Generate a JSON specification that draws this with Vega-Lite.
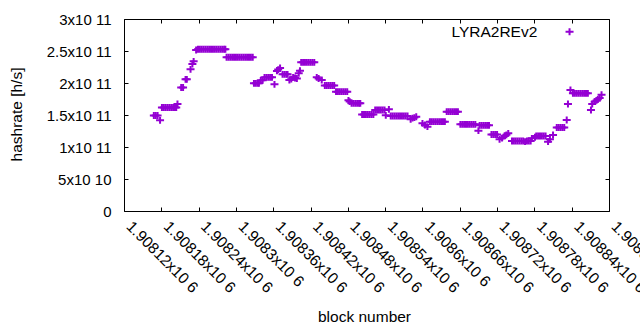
{
  "$schema": "https://vega.github.io/schema/vega-lite/v6.json",
  "width": 485,
  "height": 192,
  "autosize": {"type": "none"},
  "padding": {"left": 124, "top": 19, "right": 31, "bottom": 119},
  "background": "white",
  "config": {
    "font": "Liberation Sans",
    "view": {"stroke": "black", "strokeWidth": 1},
    "axis": {"domain": false, "grid": false, "tickColor": "black", "tickWidth": 1, "labelColor": "black", "titleColor": "black", "labelFont": "Liberation Sans", "titleFont": "Liberation Sans", "labelFontSize": 15, "titleFontSize": 15.5, "titleFontWeight": "normal"}
  },
  "data": {"values": [
    {"block":1908168,"hashrate":149.2e9},{"block":1908171,"hashrate":149.2e9},{"block":1908174,"hashrate":149.2e9},
    {"block":1908178,"hashrate":141.7e9},
    {"block":1908181,"hashrate":161.7e9},{"block":1908184,"hashrate":161.7e9},{"block":1908187,"hashrate":161.7e9},{"block":1908190,"hashrate":161.7e9},{"block":1908193,"hashrate":161.7e9},{"block":1908196,"hashrate":161.7e9},{"block":1908199,"hashrate":161.7e9},{"block":1908202,"hashrate":161.7e9},{"block":1908204,"hashrate":161.7e9},
    {"block":1908206,"hashrate":167.2e9},
    {"block":1908212,"hashrate":193.0e9},{"block":1908215,"hashrate":193.0e9},
    {"block":1908219,"hashrate":205.8e9},{"block":1908221,"hashrate":205.8e9},
    {"block":1908227,"hashrate":221.4e9},
    {"block":1908230,"hashrate":229.7e9},
    {"block":1908232,"hashrate":233.9e9},
    {"block":1908236,"hashrate":251.6e9},
    {"block":1908239,"hashrate":252.7e9},{"block":1908242,"hashrate":252.7e9},{"block":1908245,"hashrate":252.7e9},{"block":1908248,"hashrate":252.7e9},{"block":1908251,"hashrate":252.7e9},{"block":1908254,"hashrate":252.7e9},{"block":1908257,"hashrate":252.7e9},{"block":1908260,"hashrate":252.7e9},{"block":1908263,"hashrate":252.7e9},{"block":1908266,"hashrate":252.7e9},{"block":1908269,"hashrate":252.7e9},{"block":1908272,"hashrate":252.7e9},{"block":1908275,"hashrate":252.7e9},{"block":1908278,"hashrate":252.7e9},{"block":1908281,"hashrate":252.7e9},{"block":1908283,"hashrate":252.7e9},
    {"block":1908285,"hashrate":240.2e9},{"block":1908288,"hashrate":240.2e9},{"block":1908291,"hashrate":240.2e9},{"block":1908294,"hashrate":240.2e9},{"block":1908297,"hashrate":240.2e9},{"block":1908300,"hashrate":240.2e9},{"block":1908303,"hashrate":240.2e9},{"block":1908306,"hashrate":240.2e9},{"block":1908309,"hashrate":240.2e9},{"block":1908312,"hashrate":240.2e9},{"block":1908315,"hashrate":240.2e9},{"block":1908318,"hashrate":240.2e9},{"block":1908321,"hashrate":240.2e9},{"block":1908324,"hashrate":240.2e9},{"block":1908327,"hashrate":240.2e9},
    {"block":1908329,"hashrate":199.5e9},{"block":1908332,"hashrate":199.5e9},{"block":1908335,"hashrate":199.5e9},{"block":1908337,"hashrate":199.5e9},
    {"block":1908340,"hashrate":204.2e9},{"block":1908343,"hashrate":204.2e9},
    {"block":1908346,"hashrate":208.9e9},{"block":1908349,"hashrate":208.9e9},{"block":1908352,"hashrate":208.9e9},{"block":1908355,"hashrate":208.9e9},{"block":1908358,"hashrate":208.9e9},
    {"block":1908362,"hashrate":198.0e9},
    {"block":1908366,"hashrate":218.8e9},{"block":1908368,"hashrate":221.0e9},{"block":1908371,"hashrate":223.4e9},
    {"block":1908375,"hashrate":213.6e9},{"block":1908378,"hashrate":213.6e9},{"block":1908381,"hashrate":213.6e9},{"block":1908383,"hashrate":213.6e9},
    {"block":1908386,"hashrate":204.7e9},{"block":1908389,"hashrate":206.0e9},{"block":1908392,"hashrate":208.9e9},{"block":1908395,"hashrate":207.8e9},{"block":1908398,"hashrate":207.0e9},
    {"block":1908401,"hashrate":215.2e9},{"block":1908403,"hashrate":219.2e9},
    {"block":1908405,"hashrate":232.3e9},{"block":1908408,"hashrate":232.3e9},{"block":1908411,"hashrate":232.3e9},{"block":1908414,"hashrate":232.3e9},{"block":1908417,"hashrate":232.3e9},{"block":1908420,"hashrate":232.3e9},{"block":1908423,"hashrate":232.3e9},{"block":1908426,"hashrate":232.3e9},
    {"block":1908430,"hashrate":208.9e9},{"block":1908433,"hashrate":207.0e9},{"block":1908438,"hashrate":204.7e9},
    {"block":1908443,"hashrate":196.1e9},{"block":1908446,"hashrate":196.1e9},{"block":1908449,"hashrate":196.1e9},{"block":1908452,"hashrate":196.1e9},{"block":1908455,"hashrate":196.1e9},{"block":1908458,"hashrate":196.1e9},
    {"block":1908461,"hashrate":186.4e9},{"block":1908464,"hashrate":186.4e9},{"block":1908467,"hashrate":186.4e9},{"block":1908470,"hashrate":186.4e9},{"block":1908473,"hashrate":186.4e9},{"block":1908476,"hashrate":186.4e9},{"block":1908479,"hashrate":186.4e9},
    {"block":1908481,"hashrate":173.0e9},{"block":1908483,"hashrate":171.0e9},
    {"block":1908486,"hashrate":168.3e9},{"block":1908489,"hashrate":168.3e9},{"block":1908492,"hashrate":168.3e9},{"block":1908495,"hashrate":168.3e9},{"block":1908498,"hashrate":168.3e9},{"block":1908500,"hashrate":168.3e9},
    {"block":1908503,"hashrate":150.8e9},{"block":1908506,"hashrate":150.8e9},{"block":1908509,"hashrate":150.8e9},{"block":1908512,"hashrate":150.8e9},{"block":1908515,"hashrate":150.8e9},{"block":1908518,"hashrate":150.8e9},{"block":1908521,"hashrate":150.8e9},
    {"block":1908524,"hashrate":157.8e9},{"block":1908527,"hashrate":157.8e9},{"block":1908530,"hashrate":157.8e9},{"block":1908533,"hashrate":157.8e9},{"block":1908536,"hashrate":157.8e9},{"block":1908539,"hashrate":157.8e9},
    {"block":1908541,"hashrate":149.5e9},{"block":1908546,"hashrate":158.9e9},
    {"block":1908549,"hashrate":148.4e9},{"block":1908552,"hashrate":148.4e9},{"block":1908555,"hashrate":148.4e9},{"block":1908558,"hashrate":148.4e9},{"block":1908561,"hashrate":148.4e9},{"block":1908564,"hashrate":148.4e9},{"block":1908567,"hashrate":148.4e9},{"block":1908570,"hashrate":148.4e9},{"block":1908573,"hashrate":148.4e9},{"block":1908576,"hashrate":148.4e9},
    {"block":1908581,"hashrate":143.3e9},{"block":1908584,"hashrate":145.0e9},{"block":1908587,"hashrate":146.0e9},{"block":1908590,"hashrate":147.3e9},
    {"block":1908600,"hashrate":137.0e9},{"block":1908604,"hashrate":134.4e9},{"block":1908608,"hashrate":131.7e9},
    {"block":1908612,"hashrate":139.5e9},{"block":1908615,"hashrate":139.5e9},{"block":1908618,"hashrate":139.5e9},{"block":1908621,"hashrate":139.5e9},{"block":1908624,"hashrate":139.5e9},{"block":1908627,"hashrate":139.5e9},{"block":1908630,"hashrate":139.5e9},{"block":1908633,"hashrate":139.5e9},{"block":1908636,"hashrate":139.5e9},
    {"block":1908639,"hashrate":155.2e9},{"block":1908642,"hashrate":155.2e9},{"block":1908645,"hashrate":155.2e9},{"block":1908648,"hashrate":155.2e9},{"block":1908651,"hashrate":155.2e9},{"block":1908654,"hashrate":155.2e9},{"block":1908657,"hashrate":155.2e9},
    {"block":1908661,"hashrate":135.5e9},{"block":1908664,"hashrate":135.5e9},{"block":1908667,"hashrate":135.5e9},{"block":1908670,"hashrate":135.5e9},{"block":1908673,"hashrate":135.5e9},{"block":1908676,"hashrate":135.5e9},{"block":1908679,"hashrate":135.5e9},{"block":1908682,"hashrate":135.5e9},{"block":1908685,"hashrate":135.5e9},
    {"block":1908690,"hashrate":125.5e9},
    {"block":1908692,"hashrate":133.9e9},{"block":1908695,"hashrate":133.9e9},{"block":1908698,"hashrate":133.9e9},{"block":1908701,"hashrate":133.9e9},{"block":1908704,"hashrate":133.9e9},{"block":1908707,"hashrate":133.9e9},
    {"block":1908711,"hashrate":119.5e9},{"block":1908714,"hashrate":119.5e9},{"block":1908717,"hashrate":119.5e9},{"block":1908720,"hashrate":119.5e9},
    {"block":1908724,"hashrate":112.0e9},
    {"block":1908728,"hashrate":114.0e9},{"block":1908732,"hashrate":117.2e9},{"block":1908735,"hashrate":119.0e9},{"block":1908738,"hashrate":121.4e9},
    {"block":1908744,"hashrate":109.4e9},{"block":1908747,"hashrate":109.4e9},{"block":1908750,"hashrate":109.4e9},{"block":1908753,"hashrate":109.4e9},{"block":1908756,"hashrate":109.4e9},{"block":1908759,"hashrate":109.4e9},{"block":1908762,"hashrate":109.4e9},{"block":1908765,"hashrate":108.3e9},{"block":1908768,"hashrate":109.4e9},{"block":1908771,"hashrate":109.4e9},{"block":1908774,"hashrate":109.4e9},
    {"block":1908776,"hashrate":113.6e9},{"block":1908781,"hashrate":115.2e9},
    {"block":1908783,"hashrate":117.2e9},{"block":1908786,"hashrate":117.2e9},{"block":1908789,"hashrate":117.2e9},{"block":1908792,"hashrate":117.2e9},{"block":1908795,"hashrate":117.2e9},{"block":1908798,"hashrate":117.2e9},
    {"block":1908802,"hashrate":108.3e9},{"block":1908805,"hashrate":112.0e9},
    {"block":1908810,"hashrate":118.75e9},
    {"block":1908816,"hashrate":130.5e9},{"block":1908819,"hashrate":130.5e9},{"block":1908822,"hashrate":130.5e9},{"block":1908825,"hashrate":130.5e9},{"block":1908828,"hashrate":130.5e9},
    {"block":1908832,"hashrate":142.2e9},
    {"block":1908834,"hashrate":167.2e9},
    {"block":1908838,"hashrate":189.1e9},
    {"block":1908842,"hashrate":183.9e9},{"block":1908845,"hashrate":183.9e9},{"block":1908848,"hashrate":183.9e9},{"block":1908851,"hashrate":183.9e9},{"block":1908854,"hashrate":183.9e9},{"block":1908857,"hashrate":183.9e9},{"block":1908860,"hashrate":183.9e9},{"block":1908863,"hashrate":183.9e9},{"block":1908866,"hashrate":183.9e9},
    {"block":1908871,"hashrate":157.8e9},
    {"block":1908873,"hashrate":167.2e9},
    {"block":1908877,"hashrate":170.8e9},{"block":1908880,"hashrate":172.7e9},{"block":1908882,"hashrate":174.5e9},{"block":1908885,"hashrate":176.6e9},
    {"block":1908888,"hashrate":181.7e9}
  ]},
  "layer": [
    {
      "mark": {"type": "point", "shape": "M-1,0H1M0,-0.85V0.85", "size": 64, "strokeWidth": 2, "filled": false, "opacity": 1, "clip": true},
      "encoding": {
        "x": {"field": "block", "type": "quantitative",
          "scale": {"domain": [1908120, 1908900], "nice": false, "zero": false},
          "axis": {"values": [1908120,1908180,1908240,1908300,1908360,1908420,1908480,1908540,1908600,1908660,1908720,1908780,1908840,1908900],
            "labelExpr": "format(datum.value / 1e6, '.6~f') + 'x10 6'",
            "labelAngle": 45, "labelAlign": "left", "labelBaseline": "alphabetic", "labelPadding": 20, "labelOffset": 1, "labelFontSize": 15.5,
            "tickSize": -4, "labelOverlap": false, "labelFlush": false, "labelBound": false,
            "title": "block number", "titleX": 240, "titleY": 105, "titleBaseline": "middle", "titleAlign": "center", "titleAnchor": null}},
        "y": {"field": "hashrate", "type": "quantitative",
          "scale": {"domain": [0, 300000000000], "nice": false, "zero": true},
          "axis": {"values": [0, 50000000000, 100000000000, 150000000000, 200000000000, 250000000000, 300000000000],
            "labelExpr": "datum.value == 0 ? '0' : format(datum.value / pow(10, floor(log(datum.value) / LN10 + 1e-9)), '~g') + 'x10 ' + floor(log(datum.value) / LN10 + 1e-9)",
            "tickSize": -4, "labelPadding": 17, "labelOverlap": false, "labelFlush": false, "labelBaseline": "middle",
            "title": "hashrate [h/s]", "titleX": -108, "titleY": 95, "titleAngle": -90, "titleBaseline": "middle", "titleAlign": "center", "titleAnchor": null}},
        "color": {"datum": "LYRA2REv2", "type": "nominal", "scale": {"range": ["#9400d3"]},
          "legend": {"orient": "none", "legendX": 437.8, "legendY": 5, "title": null, "padding": 0,
            "symbolType": "M-1,0H1M0,-0.85V0.85", "symbolSize": 64, "symbolStrokeWidth": 2, "symbolFillColor": "transparent", "symbolStrokeColor": "#9400d3",
            "labelAlign": "right", "labelOffset": -40, "labelFontSize": 15.5, "labelColor": "black", "labelFont": "Liberation Sans", "labelLimit": 300}}
      }
    },
    {
      "mark": {"type": "point", "opacity": 0},
      "encoding": {
        "x": {"field": "block", "type": "quantitative",
          "scale": {"domain": [1908120, 1908900], "nice": false, "zero": false},
          "axis": {"orient": "top", "values": [1908120,1908180,1908240,1908300,1908360,1908420,1908480,1908540,1908600,1908660,1908720,1908780,1908840,1908900], "labels": false, "tickSize": -4, "title": null}},
        "y": {"field": "hashrate", "type": "quantitative",
          "scale": {"domain": [0, 300000000000], "nice": false, "zero": true},
          "axis": {"orient": "right", "values": [0, 50000000000, 100000000000, 150000000000, 200000000000, 250000000000, 300000000000], "labels": false, "tickSize": -4, "title": null}}
      }
    }
  ],
  "resolve": {"scale": {"x": "independent", "y": "independent"}, "axis": {"x": "independent", "y": "independent"}}
}
